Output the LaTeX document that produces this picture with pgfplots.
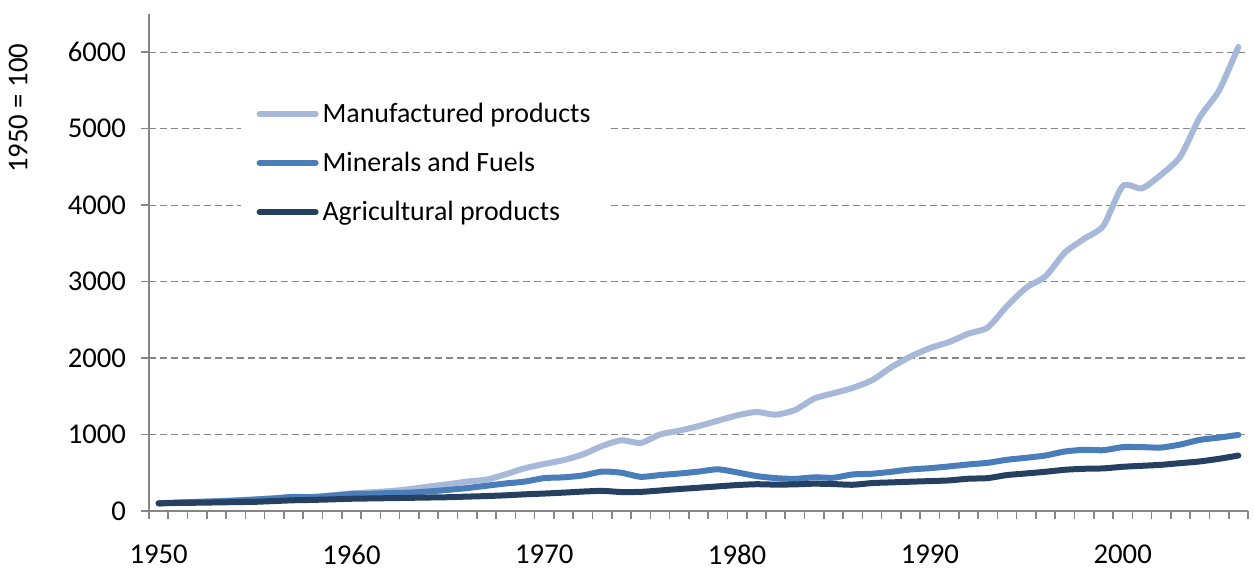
\documentclass[border=0pt]{standalone}
\usepackage{pgfplots}
\pgfplotsset{compat=1.18}
\usepackage{fontspec}
\setmainfont{Carlito}
\definecolor{manuf}{HTML}{A7B9D8}
\definecolor{miner}{HTML}{4A7EBB}
\definecolor{agri}{HTML}{254061}
\definecolor{axgray}{HTML}{868686}
\begin{document}
\begin{tikzpicture}
\begin{axis}[
  scale only axis,
  clip=false,
  width=549.5bp, height=248.5bp,
  xmin=1949.5, xmax=2006.5,
  ymin=0, ymax=6500,
  axis x line*=bottom, axis y line*=left,
  axis line style={draw=axgray, line width=0.8bp, -},
  tick align=outside,
  xtick pos=bottom, ytick pos=left,
  every tick/.style={draw=axgray, line width=0.8bp},
  major tick length=4bp,
  xtick={1949.5,1950.5,1951.5,1952.5,1953.5,1954.5,1955.5,1956.5,1957.5,1958.5,
         1959.5,1960.5,1961.5,1962.5,1963.5,1964.5,1965.5,1966.5,1967.5,1968.5,
         1969.5,1970.5,1971.5,1972.5,1973.5,1974.5,1975.5,1976.5,1977.5,1978.5,
         1979.5,1980.5,1981.5,1982.5,1983.5,1984.5,1985.5,1986.5,1987.5,1988.5,
         1989.5,1990.5,1991.5,1992.5,1993.5,1994.5,1995.5,1996.5,1997.5,1998.5,
         1999.5,2000.5,2001.5,2002.5,2003.5,2004.5,2005.5,2006.5},
  xticklabels={1950,,,,,,,,,,1960,,,,,,,,,,1970,,,,,,,,,,1980,,,,,,,,,,1990,,,,,,,,,,2000,,,,,,,,},
  xticklabel style={xshift=4.82bp, yshift=-9.5bp, overlay},
  ytick={0,1000,...,6000},
  yticklabel style={xshift=-4bp},
  ymajorgrids,
  y grid style={draw=axgray, line width=0.6bp, dash pattern=on 3.5bp off 2bp},
  /pgf/number format/assume math mode=true,
  /pgf/number format/1000 sep={},
  ticklabel style={font=\fontsize{14.4}{16}\selectfont},
  legend style={at={(0.083,0.854)}, anchor=north west, draw=none, fill=white,
    font=\fontsize{14}{16}\selectfont, row sep=9.3bp, inner xsep=8bp, inner ysep=6bp},
  legend cell align=left,
  legend image code/.code={\draw[#1, line cap=round] (0bp,0bp) -- (28bp,0bp);},
  every axis plot/.append style={line width=3bp, line cap=round, line join=round, smooth, tension=0.4},
]
\addplot[manuf] coordinates {
(1950,100)(1951,110)(1952,120)(1953,130)(1954,140)(1955,150)(1956,165)(1957,180)(1958,185)(1959,205)
(1960,230)(1961,245)(1962,260)(1963,285)(1964,320)(1965,350)(1966,385)(1967,410)(1968,480)(1969,560)
(1970,615)(1971,665)(1972,740)(1973,850)(1974,925)(1975,890)(1976,1000)(1977,1050)(1978,1110)(1979,1180)
(1980,1250)(1981,1295)(1982,1260)(1983,1320)(1984,1470)(1985,1540)(1986,1610)(1987,1710)(1988,1880)(1989,2020)
(1990,2130)(1991,2210)(1992,2320)(1993,2400)(1994,2680)(1995,2920)(1996,3070)(1997,3380)(1998,3560)(1999,3730)
(2000,4250)(2001,4220)(2002,4400)(2003,4640)(2004,5150)(2005,5500)(2006,6070)};
\addlegendentry{Manufactured products}
\addplot[miner] coordinates {
(1950,100)(1951,110)(1952,118)(1953,125)(1954,135)(1955,150)(1956,165)(1957,185)(1958,180)(1959,200)
(1960,220)(1961,225)(1962,235)(1963,240)(1964,255)(1965,276)(1966,300)(1967,330)(1968,360)(1969,385)
(1970,430)(1971,440)(1972,465)(1973,515)(1974,500)(1975,447)(1976,470)(1977,490)(1978,515)(1979,545)
(1980,505)(1981,457)(1982,430)(1983,420)(1984,440)(1985,435)(1986,478)(1987,487)(1988,513)(1989,543)
(1990,560)(1991,583)(1992,609)(1993,630)(1994,670)(1995,696)(1996,726)(1997,778)(1998,800)(1999,795)
(2000,835)(2001,835)(2002,830)(2003,870)(2004,930)(2005,960)(2006,995)};
\addlegendentry{Minerals and Fuels}
\addplot[agri] coordinates {
(1950,100)(1951,105)(1952,108)(1953,112)(1954,116)(1955,120)(1956,130)(1957,140)(1958,145)(1959,152)
(1960,160)(1961,164)(1962,168)(1963,172)(1964,176)(1965,180)(1966,188)(1967,195)(1968,205)(1969,218)
(1970,228)(1971,240)(1972,254)(1973,263)(1974,248)(1975,250)(1976,268)(1977,287)(1978,304)(1979,322)
(1980,339)(1981,350)(1982,345)(1983,348)(1984,357)(1985,352)(1986,343)(1987,365)(1988,374)(1989,383)
(1990,391)(1991,400)(1992,422)(1993,430)(1994,470)(1995,491)(1996,513)(1997,539)(1998,552)(1999,557)
(2000,578)(2001,591)(2002,604)(2003,626)(2004,648)(2005,683)(2006,725)};
\addlegendentry{Agricultural products}
\node[rotate=90, font=\fontsize{14.4}{16}\selectfont] at (axis description cs:-0.119,0.81) {1950 = 100};
\end{axis}
\path (current axis.south west) ++(-74.5bp,-30bp) coordinate (bbsw);
\path (current axis.north east) ++(3bp,7bp) coordinate (bbne);
\path[use as bounding box] (bbsw) rectangle (bbne);
\end{tikzpicture}
\end{document}
